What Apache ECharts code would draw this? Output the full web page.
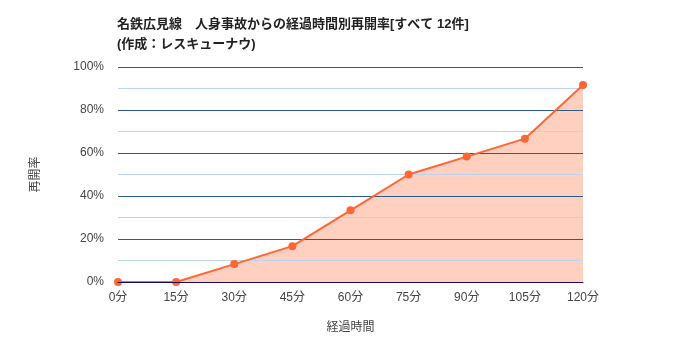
<!DOCTYPE html>
<html><head><meta charset="utf-8">
<script src="https://cdn.jsdelivr.net/npm/echarts@6/dist/echarts.min.js"></script>
<style>html,body{margin:0;padding:0;background:#fff}#c{width:700px;height:350px}</style>
</head><body><div id="c"></div>
<script>
const titleText = '名鉄広見線　人身事故からの経過時間別再開率[すべて 12件]\n(作成：レスキューナウ)';
const categories = ['0分','15分','30分','45分','60分','75分','90分','105分','120分'];
const rates = [0, 0, 8.33, 16.67, 33.33, 50, 58.33, 66.67, 91.67];
const yTicks = [0, 20, 40, 60, 80, 100];
const xName = '経過時間';
const yName = '再開率';

const font = '"Liberation Sans", Arial, "Noto Sans CJK JP", sans-serif';
const chart = echarts.init(document.getElementById('c'));
chart.setOption({
  animation: false,
  textStyle: {fontFamily: font},
  title: {text: titleText, left: 112, top: 9, textStyle: {fontSize: 13, fontWeight: 'bold', color: '#222', lineHeight: 20, fontFamily: font}},
  grid: {left: 118, right: 117, top: 67, bottom: 68},
  xAxis: {
    type: 'category', data: categories, boundaryGap: false,
    name: xName, nameLocation: 'middle', nameGap: 40,
    nameTextStyle: {fontSize: 12, color: '#444'},
    axisLine: {show: true, lineStyle: {color: '#1a0a6e', width: 1}},
    axisTick: {show: false},
    axisLabel: {fontSize: 12, color: '#444', margin: 10},
    z: 5
  },
  yAxis: {
    type: 'value', min: 0, max: 100, interval: 20,
    name: yName, nameLocation: 'middle', nameGap: 76, nameRotate: 90,
    nameTextStyle: {fontSize: 12, color: '#444'},
    axisLine: {show: false}, axisTick: {show: false},
    axisLabel: {fontSize: 12, color: '#444', margin: 14, formatter: v => v + '%'},
    splitLine: {show: true, lineStyle: {color: '#2f5b8c', width: 1}},
    minorTick: {show: false, splitNumber: 2},
    minorSplitLine: {show: true, lineStyle: {color: '#bcd4f4', width: 1}},
    z: 2
  },
  series: [
    {type: 'line', data: rates, symbol: 'none', lineStyle: {width: 0, opacity: 0},
     areaStyle: {color: '#ffcfbf', opacity: 1}, z: 1, silent: true},
    {type: 'line', data: rates, symbol: 'circle', symbolSize: 8,
     lineStyle: {color: '#ff6633', width: 2}, itemStyle: {color: '#ff6633'}, z: 4}
  ]
});
</script></body></html>
